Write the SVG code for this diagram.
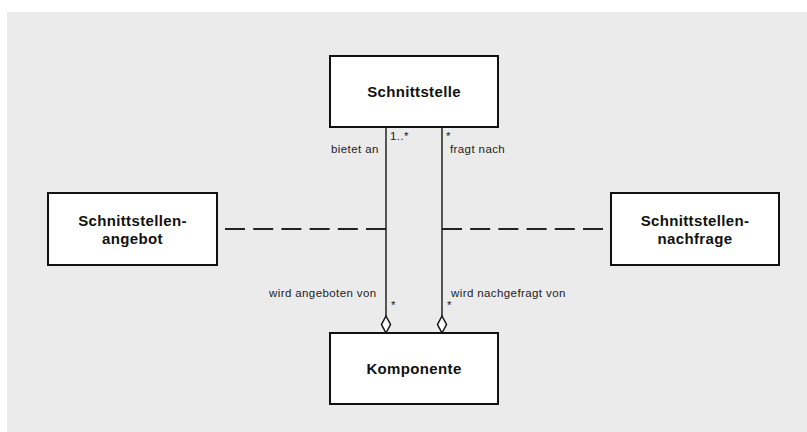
<svg xmlns="http://www.w3.org/2000/svg" width="807" height="432" viewBox="0 0 807 432">
  <style>
    .box { fill: #ffffff; stroke: #111111; stroke-width: 2; }
    .title { font-family: "Liberation Sans", Arial, sans-serif; font-size: 15px; font-weight: bold; fill: #111111; text-anchor: middle; letter-spacing: 0.35px; }
    .label { font-family: "Liberation Sans", Arial, sans-serif; font-size: 11.5px; fill: #222222; letter-spacing: 0.4px; }
    .assoc { stroke: #444444; stroke-width: 1.8; fill: none; }
    .dash { stroke: #222222; stroke-width: 2; stroke-dasharray: 20 8.2; fill: none; }
    .diamond { fill: #ffffff; stroke: #111111; stroke-width: 1.5; }
  </style>

  <rect x="7" y="12" width="800" height="420" fill="#ebebeb"/>

  <g id="connectors">
    <!-- aggregation lines from Komponente up to Schnittstelle -->
    <line class="assoc" x1="386" y1="127" x2="386" y2="316"/>
    <line class="assoc" x1="442" y1="127" x2="442" y2="316"/>
    <polygon class="diamond" points="386,316 390.5,324.5 386,333 381.5,324.5"/>
    <polygon class="diamond" points="442,316 446.5,324.5 442,333 437.5,324.5"/>
    <!-- association classes attached with dashed lines -->
    <line class="dash" x1="225" y1="229" x2="386" y2="229"/>
    <line class="dash" x1="442" y1="229" x2="603" y2="229"/>
    <!-- role names and multiplicities -->
    <text class="label" x="331" y="153">bietet an</text>
    <text class="label" x="390" y="140">1..*</text>
    <text class="label" x="446" y="140">*</text>
    <text class="label" x="450" y="153">fragt nach</text>
    <text class="label" x="269" y="297">wird angeboten von</text>
    <text class="label" x="391" y="309">*</text>
    <text class="label" x="451" y="297">wird nachgefragt von</text>
    <text class="label" x="447" y="309">*</text>
  </g>

  <g id="schnittstelle">
    <rect class="box" x="330" y="56" width="168" height="71"/>
    <text class="title" x="414" y="97">Schnittstelle</text>
  </g>

  <g id="komponente">
    <rect class="box" x="330" y="333" width="168" height="71"/>
    <text class="title" x="414" y="374">Komponente</text>
  </g>

  <g id="schnittstellenangebot">
    <rect class="box" x="48" y="193" width="169" height="72"/>
    <text class="title" x="132.5" y="226">Schnittstellen-</text>
    <text class="title" x="132.5" y="244">angebot</text>
  </g>

  <g id="schnittstellennachfrage">
    <rect class="box" x="611" y="193" width="168" height="72"/>
    <text class="title" x="695" y="226">Schnittstellen-</text>
    <text class="title" x="695" y="244">nachfrage</text>
  </g>
</svg>
